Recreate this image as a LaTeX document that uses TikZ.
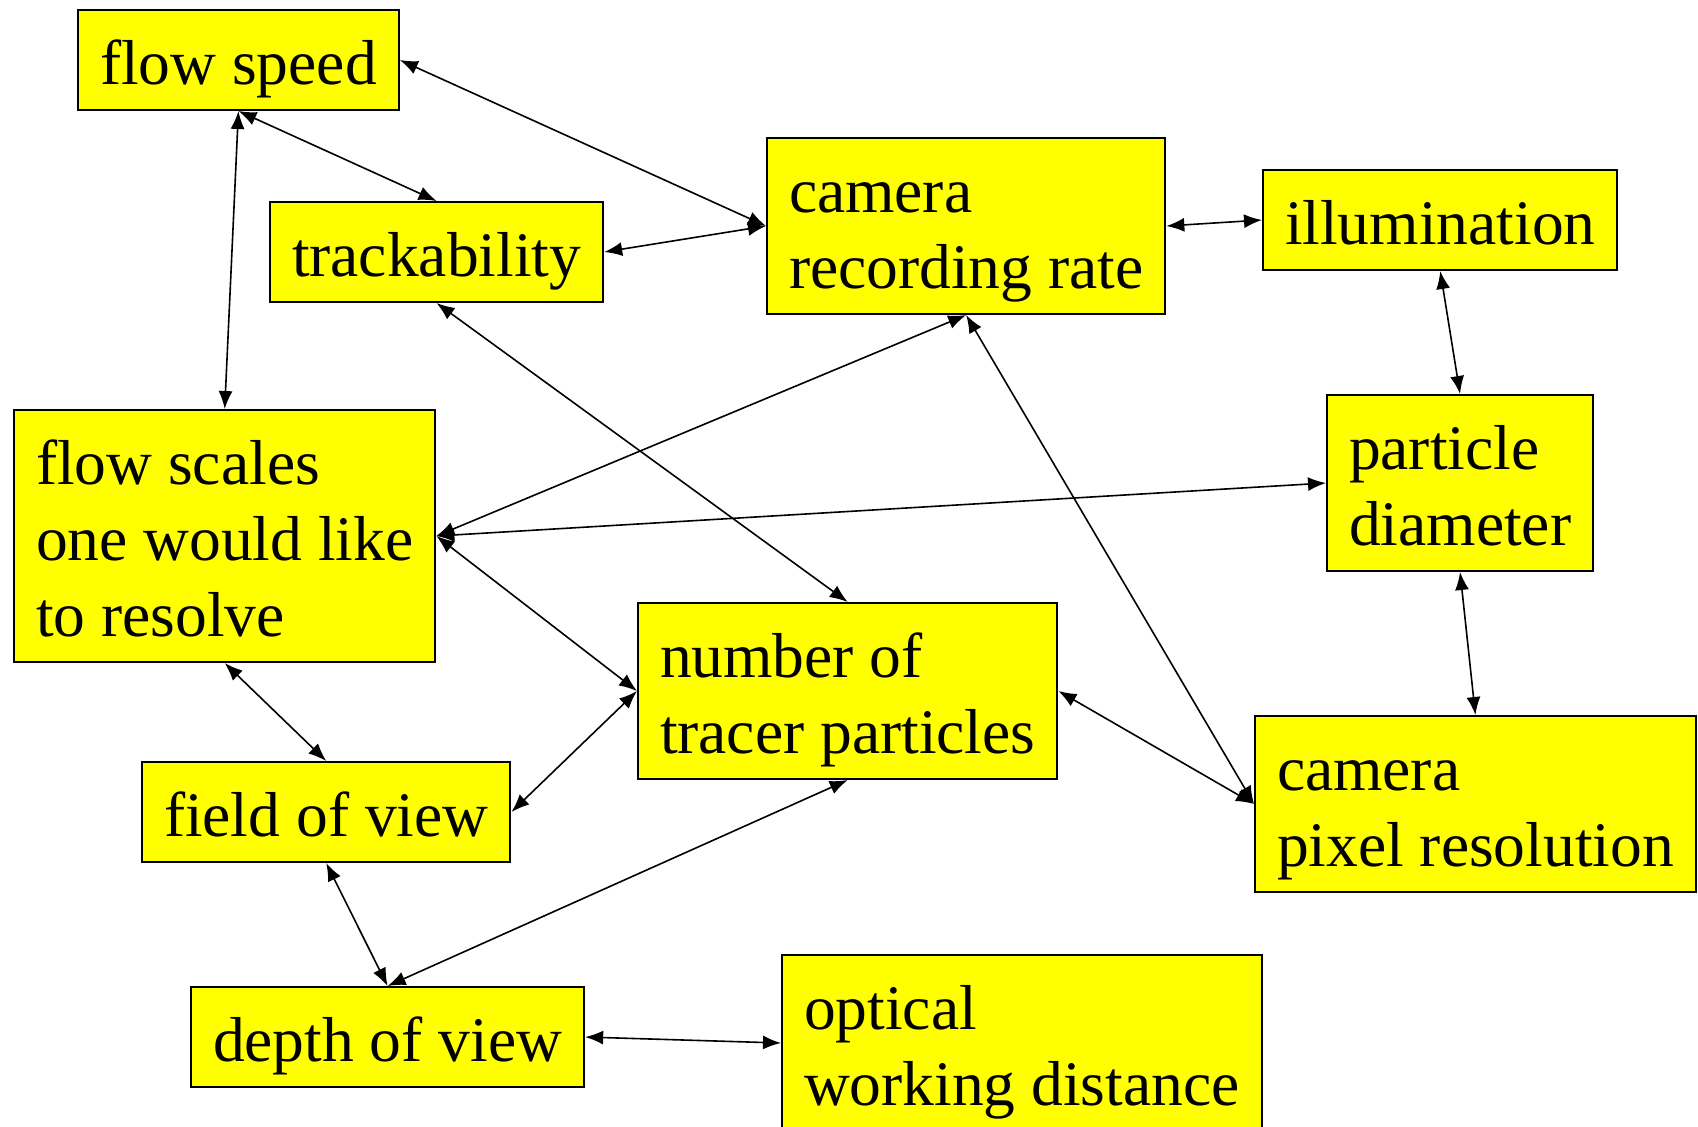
\documentclass[tikz,border=0pt]{standalone}
\usepackage{fontspec}
\setmainfont{Liberation Serif}
\usetikzlibrary{arrows.meta}
\definecolor{boxyellow}{RGB}{255,255,0}
\newcommand{\upstrut}{\rule{0pt}{37pt}}
\newcommand{\downstrut}{\rule[-13pt]{0pt}{13pt}}

\begin{document}
\begin{tikzpicture}[x=0.5pt,y=-0.5pt,
    factor/.style={draw=black,line width=1pt,fill=boxyellow,align=left,
      inner xsep=11pt,inner ysep=0pt,anchor=north west,
      font=\fontsize{31.75pt}{38pt}\selectfont},
    link/.style={{Latex[length=9pt,width=7pt]}-{Latex[length=9pt,width=7pt]},line width=0.8pt}]

    \useasboundingbox (0,0) rectangle (1698,1126);
    \clip (0,0) rectangle (1698,1126);

    % 白色底

    \fill[white] (0,0) rectangle (1698,1126);

    % 各个因素方框

    \node[factor] (fspeed)  at (77,9)     {\upstrut flow speed\downstrut};
    \node[factor] (track)   at (269,201)  {\upstrut trackability\downstrut};
    \node[factor] (camrate) at (766,137)  {\upstrut camera\\recording rate\downstrut};
    \node[factor] (illum)   at (1262,169) {\upstrut illumination\downstrut};
    \node[factor] (scales)  at (13,409)   {\upstrut flow scales\\one would like\\to resolve\downstrut};
    \node[factor] (pdiam)   at (1326,394) {\upstrut particle\\diameter\downstrut};
    \node[factor] (ntracer) at (637,602)  {\upstrut number of\\tracer particles\downstrut};
    \node[factor] (fov)     at (141,761)  {\upstrut field of view\downstrut};
    \node[factor] (pixres)  at (1254,715) {\upstrut camera\\pixel resolution\downstrut};
    \node[factor] (dov)     at (190,986)  {\upstrut depth of view\downstrut};
    \node[factor] (optical) at (781,954)  {\upstrut optical\\working distance\downstrut};

    % 双向箭头

    \draw[link] (fspeed.east) -- (camrate.west);
    \draw[link] (fspeed.south) -- (track.north);
    \draw[link] (fspeed.south) -- (scales.north);
    \draw[link] (track.east) -- (camrate.west);
    \draw[link] (camrate.east) -- (illum.west);
    \draw[link] (illum.south) -- (pdiam.north);
    \draw[link] (track.south) -- (ntracer.north);
    \draw[link] (camrate.south) -- (scales.east);
    \draw[link] (camrate.south) -- (pixres.west);
    \draw[link] (scales.east) -- (pdiam.west);
    \draw[link] (scales.east) -- (ntracer.west);
    \draw[link] (scales.south) -- (fov.north);
    \draw[link] (fov.east) -- (ntracer.west);
    \draw[link] (ntracer.east) -- (pixres.west);
    \draw[link] (pdiam.south) -- (pixres.north);
    \draw[link] (fov.south) -- (dov.north);
    \draw[link] (ntracer.south) -- (dov.north);
    \draw[link] (dov.east) -- (optical.west);

  \end{tikzpicture}
\end{document}
